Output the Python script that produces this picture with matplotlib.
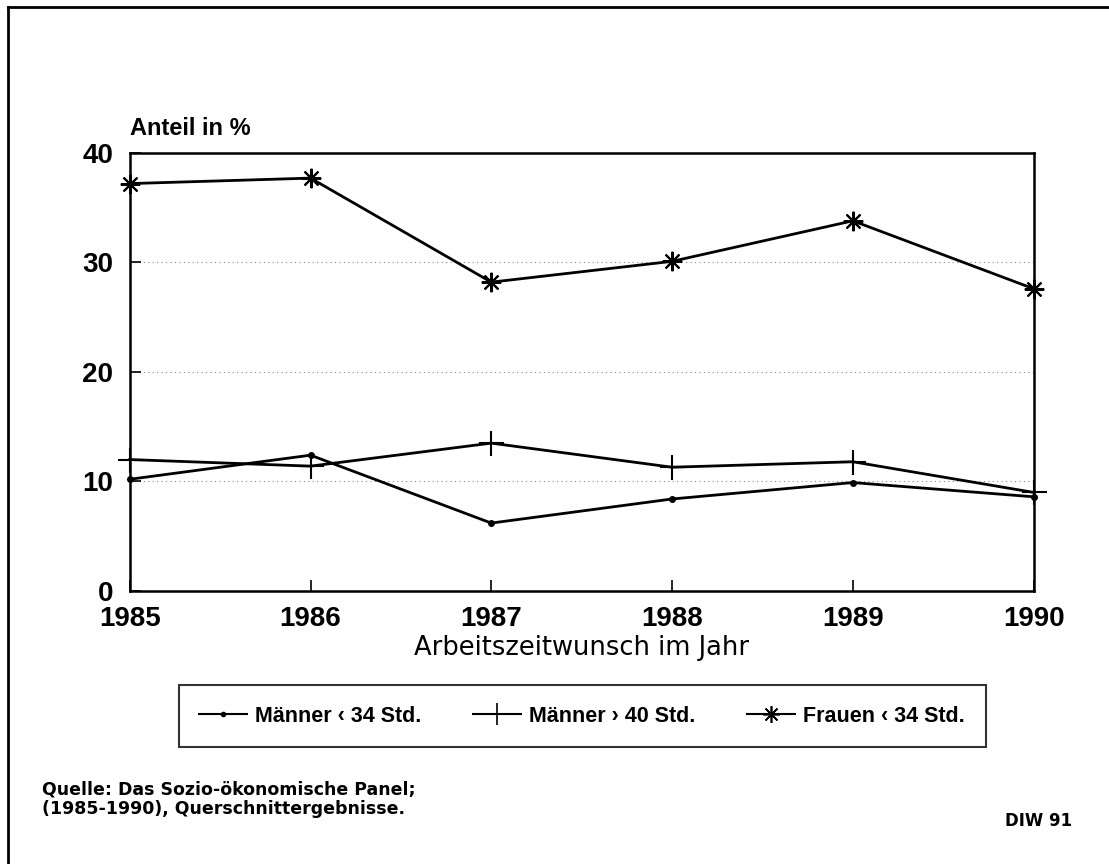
import matplotlib.pyplot as plt
from matplotlib.lines import Line2D

# Data
years = [1985, 1986, 1987, 1988, 1989, 1990]
maenner_unter34 = [10.2, 12.4, 6.2, 8.4, 9.9, 8.6]
maenner_ueber40 = [12.0, 11.4, 13.5, 11.3, 11.8, 9.0]
frauen_unter34 = [37.2, 37.7, 28.2, 30.1, 33.8, 27.6]
yticks = [0, 10, 20, 30, 40]

plt.rcParams['font.family'] = ['Liberation Sans', 'DejaVu Sans']

fig = plt.figure(figsize=(11.09, 8.64), dpi=100)
ax = fig.add_axes([0.117, 0.316, 0.815, 0.507])

star = (8, 2, 0)
ax.plot(years, maenner_unter34, color='black', lw=2, marker='o', ms=4,
        label='Männer ‹ 34 Std.', clip_on=False)
ax.plot(years, maenner_ueber40, color='black', lw=2, marker='+', ms=18, mew=1.5,
        label='Männer › 40 Std.', clip_on=False)
ax.plot(years, frauen_unter34, color='black', lw=2, marker=star, ms=14, mew=1.5,
        label='Frauen ‹ 34 Std.', clip_on=False)

ax.set_xlim(1985, 1990)
ax.set_ylim(0, 40)
ax.set_xticks(years)
ax.set_yticks(yticks)
ax.tick_params(direction='in', length=8, width=1.2, labelsize=20)
ax.tick_params(axis='x', pad=11)
ax.tick_params(axis='y', pad=12)
for lab in ax.get_xticklabels() + ax.get_yticklabels():
    lab.set_fontweight('bold')
for s in ax.spines.values():
    s.set_linewidth(1.8)

for v in yticks[1:-1]:
    ax.axhline(v, color='#888888', lw=0.8, linestyle=(0, (1, 3)), zorder=0)

ax.text(0, 1.03, 'Anteil in %', transform=ax.transAxes, fontsize=17,
        fontweight='bold', ha='left', va='bottom')
ax.set_xlabel('Arbeitszeitwunsch im Jahr', fontsize=18.5, labelpad=2,
              family='DejaVu Sans', fontweight='medium')

handles = [
    Line2D([], [], color='black', lw=1.5, marker='o', ms=3),
    Line2D([], [], color='black', lw=1.5, marker='+', ms=16, mew=1.2),
    Line2D([], [], color='black', lw=1.5, marker=star, ms=12, mew=1.2),
]
labels = ['Männer ‹ 34 Std.', 'Männer › 40 Std.', 'Frauen ‹ 34 Std.']
leg = fig.legend(handles, labels, loc='center', bbox_to_anchor=(0.525, 0.171),
                 ncol=3, fancybox=False, edgecolor='black', handlelength=2.2,
                 columnspacing=2.4, borderpad=0.95, handletextpad=0.4,
                 borderaxespad=0, prop={'size': 15.5, 'weight': 'bold'})
leg.get_frame().set_linewidth(1.5)

fig.text(0.038, 0.075, 'Quelle: Das Sozio-ökonomische Panel;\n(1985-1990), Querschnittergebnisse.',
         fontsize=12.5, fontweight='bold', ha='left', va='center', linespacing=1.1,
         family='DejaVu Sans')
fig.text(0.967, 0.050, 'DIW 91', fontsize=12, fontweight='bold', ha='right', va='center',
         family='DejaVu Sans')

# outer frame lines (top and left)
fig.add_artist(Line2D([0.007, 1.0], [0.992, 0.992], color='black', lw=2,
                      transform=fig.transFigure))
fig.add_artist(Line2D([0.007, 0.007], [0.0, 0.992], color='black', lw=2,
                      transform=fig.transFigure))

fig.savefig('out.png', dpi=100)
